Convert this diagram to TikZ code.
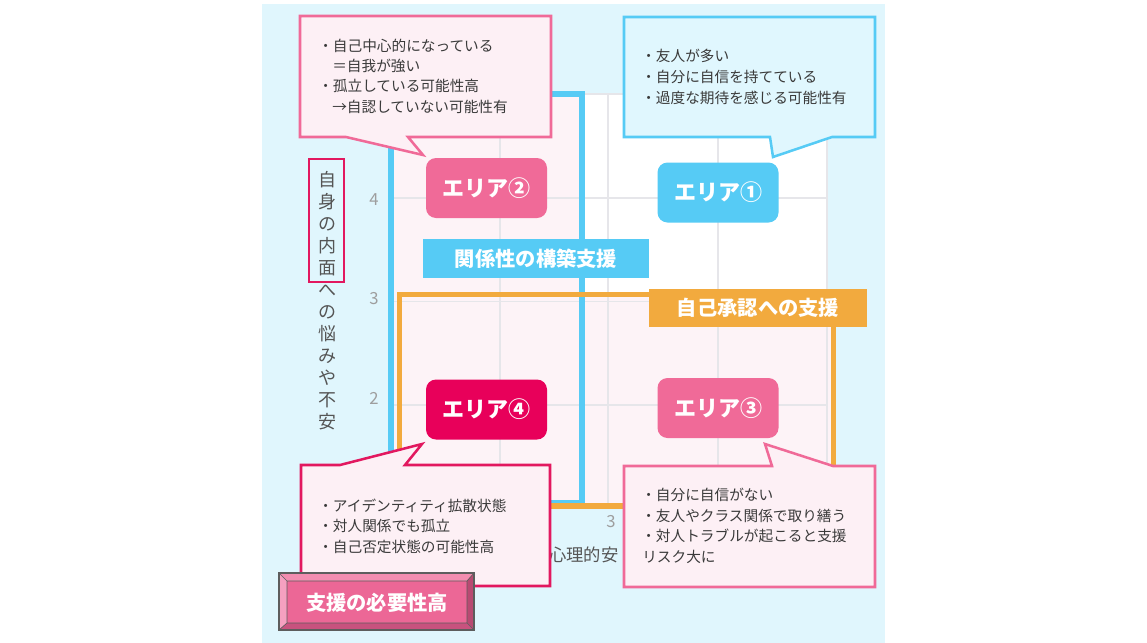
\documentclass[tikz,border=0pt]{standalone}
\usepackage{fontspec}
\setmainfont{Noto Sans CJK JP}
\definecolor{bgblue}{HTML}{E0F6FD}
\definecolor{plotpink}{HTML}{FDF3F7}
\definecolor{gridc}{HTML}{E6E6EA}
\definecolor{cyanc}{HTML}{56CBF5}
\definecolor{orangec}{HTML}{F2AA3E}
\definecolor{pinkc}{HTML}{F06A98}
\definecolor{crimc}{HTML}{E8005A}
\definecolor{crimb}{HTML}{E2185F}
\definecolor{cpinkfill}{HTML}{FDF0F5}
\definecolor{ccyanfill}{HTML}{E0F7FE}
\definecolor{txtc}{HTML}{3A3A3A}
\definecolor{axc}{HTML}{555555}
\definecolor{tickc}{HTML}{9E9E9E}
\definecolor{bvtop}{HTML}{F28DB0}
\definecolor{bvleft}{HTML}{F5A0C0}
\definecolor{bvright}{HTML}{B94A72}
\definecolor{bvbot}{HTML}{C8527E}
\definecolor{bvface}{HTML}{EC6796}
\definecolor{bvline}{HTML}{5D5D5D}
\newcommand\areafnt{\fontsize{16.5pt}{18pt}\selectfont\bfseries}
\newcommand\labfnt{\fontsize{15.2pt}{18pt}\selectfont\bfseries}
\newcommand\ctxtfnt{\fontsize{11pt}{13pt}\selectfont}
\tikzset{
  areabox/.style={rounded corners=7.5pt, minimum width=90.75pt, minimum height=45pt, inner sep=0pt, text=white, font=\areafnt},
  labbox/.style={inner sep=0pt, text=white, font=\labfnt},
  ctext/.style={anchor=base west, inner sep=0pt, text=txtc, font=\ctxtfnt},
  gridline/.style={draw=gridc, line width=0.9pt},
  tick/.style={inner sep=0pt, text=tickc, font=\fontsize{12.5pt}{14pt}\selectfont},
  calloutpink/.style={draw=pinkc, fill=cpinkfill, line width=1.9pt},
  calloutcrim/.style={draw=crimb, fill=cpinkfill, line width=1.9pt},
  calloutcyan/.style={draw=cyanc, fill=ccyanfill, line width=1.9pt},
}
\begin{document}
\begin{tikzpicture}[x=0.75pt,y=-0.75pt]
\useasboundingbox (0,0) rectangle (1147,643);
\fill[bgblue] (262,4) rectangle (885,643);
% plot area
\fill[white] (391,94) rectangle (827,506);
\fill[plotpink] (391,94) rectangle (582,503);
\fill[plotpink] (399,294) rectangle (833,506);
\foreach \gx in {500,608,718,827} \draw[gridline] (\gx,94) -- (\gx,506);
\foreach \gy in {94,198,301.5,405} \draw[gridline] (391,\gy) -- (827,\gy);
% support frames
\draw[cyanc, line width=4.5pt] (391,94) rectangle (582,503);
\draw[orangec, line width=3.8pt] (399.5,294.5) rectangle (833.5,506);
\node[labbox, fill=cyanc, minimum width=169.5pt, minimum height=29.25pt] (lab1) at (536,258.5) {関係性の構築支援};
\node[labbox, fill=orangec, minimum width=163.5pt, minimum height=28.5pt] (lab2) at (758,308) {自己承認への支援};
% areas
\node[areabox, fill=pinkc] (a2) at (486.5,188) {エリア②};
\node[areabox, fill=cyanc] (a1) at (718,192.5) {エリア①};
\node[areabox, fill=crimc] (a4) at (486.5,409.5) {エリア④};
\node[areabox, fill=pinkc] (a3) at (718,408) {エリア③};
% axes
\node[inner sep=0pt, align=center, text=axc, font=\fontsize{13.5pt}{16.5pt}\selectfont] (ylab) at (327,301)
  {自\\身\\の\\内\\面\\へ\\の\\悩\\み\\や\\不\\安};
\draw[crimb, line width=1.9pt] (309,159) rectangle (344,282);
\node[tick] (t4) at (374,200) {4};
\node[tick] (t3) at (374,299) {3};
\node[tick] (t2) at (374,398) {2};
\node[tick] (tx3) at (611,522) {3};
\node[anchor=west, inner sep=0pt, text=axc, font=\fontsize{13pt}{15pt}\selectfont] (xlab) at (549,555) {心理的安};
% callouts
\draw[calloutpink] (300,16) -- (551,16) -- (551,137) -- (408,137) -- (423,155) -- (346,137) -- (300,137) -- cycle;
\node[ctext] (c2a) at (318,51) {・自己中心的になっている};
\node[ctext] (c2b) at (332,71) {＝自我が強い};
\node[ctext] (c2c) at (318,91.5) {・孤立している可能性高};
\node[ctext] (c2d) at (332,112) {→自認していない可能性有};

\draw[calloutcyan] (624,17) -- (875,17) -- (875,137) -- (832,137) -- (773,157) -- (770,137) -- (624,137) -- cycle;
\node[ctext] (c1a) at (641,61.5) {・友人が多い};
\node[ctext] (c1b) at (641,82.5) {・自分に自信を持てている};
\node[ctext] (c1c) at (641,103) {・過度な期待を感じる可能性有};

\draw[calloutcrim] (301,465) -- (340,465) -- (422,444) -- (405,465) -- (550,465) -- (550,586) -- (301,586) -- cycle;
\node[ctext] (c4a) at (318,511) {・アイデンティティ拡散状態};
\node[ctext] (c4b) at (318,531) {・対人関係でも孤立};
\node[ctext] (c4c) at (318,552) {・自己否定状態の可能性高};

\draw[calloutpink] (624,466) -- (772,466) -- (765,444) -- (833,466) -- (875,466) -- (875,587) -- (624,587) -- cycle;
\node[ctext] (c3a) at (641,500) {・自分に自信がない};
\node[ctext] (c3b) at (641,521) {・友人やクラス関係で取り繕う};
\node[ctext] (c3c) at (641,541) {・対人トラブルが起こると支援};
\node[ctext] (c3d) at (642,562) {リスク大に};

% bevel button
\fill[bvtop] (279,573) -- (474,573) -- (467,581) -- (287,581) -- cycle;
\fill[bvleft] (279,573) -- (287,581) -- (287,623) -- (279,630) -- cycle;
\fill[bvright] (474,573) -- (474,630) -- (467,623) -- (467,581) -- cycle;
\fill[bvbot] (279,630) -- (474,630) -- (467,623) -- (287,623) -- cycle;
\fill[bvface] (287,581) rectangle (467,623);
\draw[bvline, line width=0.8pt] (279,573) rectangle (474,630);
\draw[bvline, line width=0.5pt] (287,581) rectangle (467,623)
  (279,573) -- (287,581) (474,573) -- (467,581) (279,630) -- (287,623) (474,630) -- (467,623);
\node[inner sep=0pt, text=white, font=\labfnt] (btn) at (377,603) {支援の必要性高};
\end{tikzpicture}
\end{document}
